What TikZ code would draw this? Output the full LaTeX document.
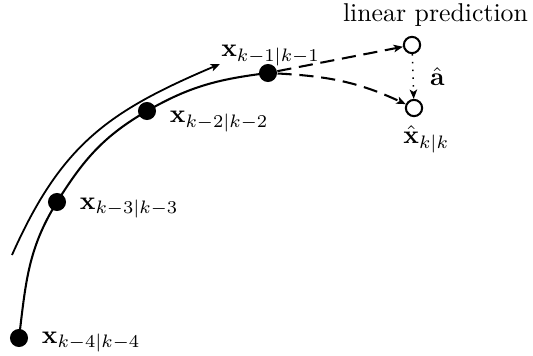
\documentclass[tikz,border=0pt]{standalone}
\usepackage{amsmath}
\usepackage{amssymb}
\usetikzlibrary{arrows.meta,positioning,calc}

\begin{document}
\begin{tikzpicture}[
  x=0.388pt, y=-0.388pt,
  dot/.style={circle, fill=black, inner sep=0pt, minimum size=7pt},
  pred/.style={circle, draw=black, line width=0.8pt, fill=white,
               inner sep=0pt, minimum size=6.3pt},
  lab/.style={inner sep=0pt},
  traj/.style={line width=0.8pt},
  tip/.style={-{Stealth[length=3.6pt, width=2.9pt, inset=0.9pt]}},
  arr/.style={tip, line width=0.7pt},
  dasharr/.style={tip, line width=0.8pt, dash pattern=on 5.5pt off 3pt},
  dotarr/.style={tip, line width=0.6pt, dash pattern=on 0.6pt off 2.4pt}
]
\useasboundingbox (0,0) rectangle (533,356);

% estimated states along the track
\node[dot] (d4) at (19,338) {};
\node[dot] (d3) at (57,202) {};
\node[dot] (d2) at (147,111) {};
\node[dot] (d1) at (268,73) {};

% predicted points
\node[pred] (p1) at (412,45) {};
\node[pred] (xk) at (414,108) {};

\node[lab, right=5pt of d4, yshift=-1.5pt] (l4) {$\mathbf{x}_{k-4|k-4}$};
\node[lab, right=5pt of d3, yshift=-2.3pt] (l3) {$\mathbf{x}_{k-3|k-3}$};
\node[lab, right=5pt of d2, yshift=-4pt] (l2) {$\mathbf{x}_{k-2|k-2}$};
\node[lab, above=-1pt of d1, xshift=1pt] (l1) {$\mathbf{x}_{k-1|k-1}$};
\node[lab, below=3pt of xk, xshift=4.8pt] (lk) {$\hat{\mathbf{x}}_{k|k}$};
\node[lab, above=3.5pt of p1, xshift=9.1pt] (lp) {linear prediction};

% track
\draw[traj] (d4.center) to[out=83,in=238] (d3.center)
  to[out=58,in=210] (d2.center)
  to[out=30,in=187] (d1.center);

% direction of motion
\coordinate (s) at (12,255);
\coordinate (e) at (220,64);
\draw[arr] (s) to[out=66,in=203,looseness=1.1] (e);

\draw[dasharr] (d1) -- (p1);
\draw[dasharr] (d1) to[out=-3,in=155] (xk);
\draw[dotarr] (p1) -- node[right=3pt] {$\hat{\mathbf{a}}$} (xk);
\end{tikzpicture}
\end{document}
